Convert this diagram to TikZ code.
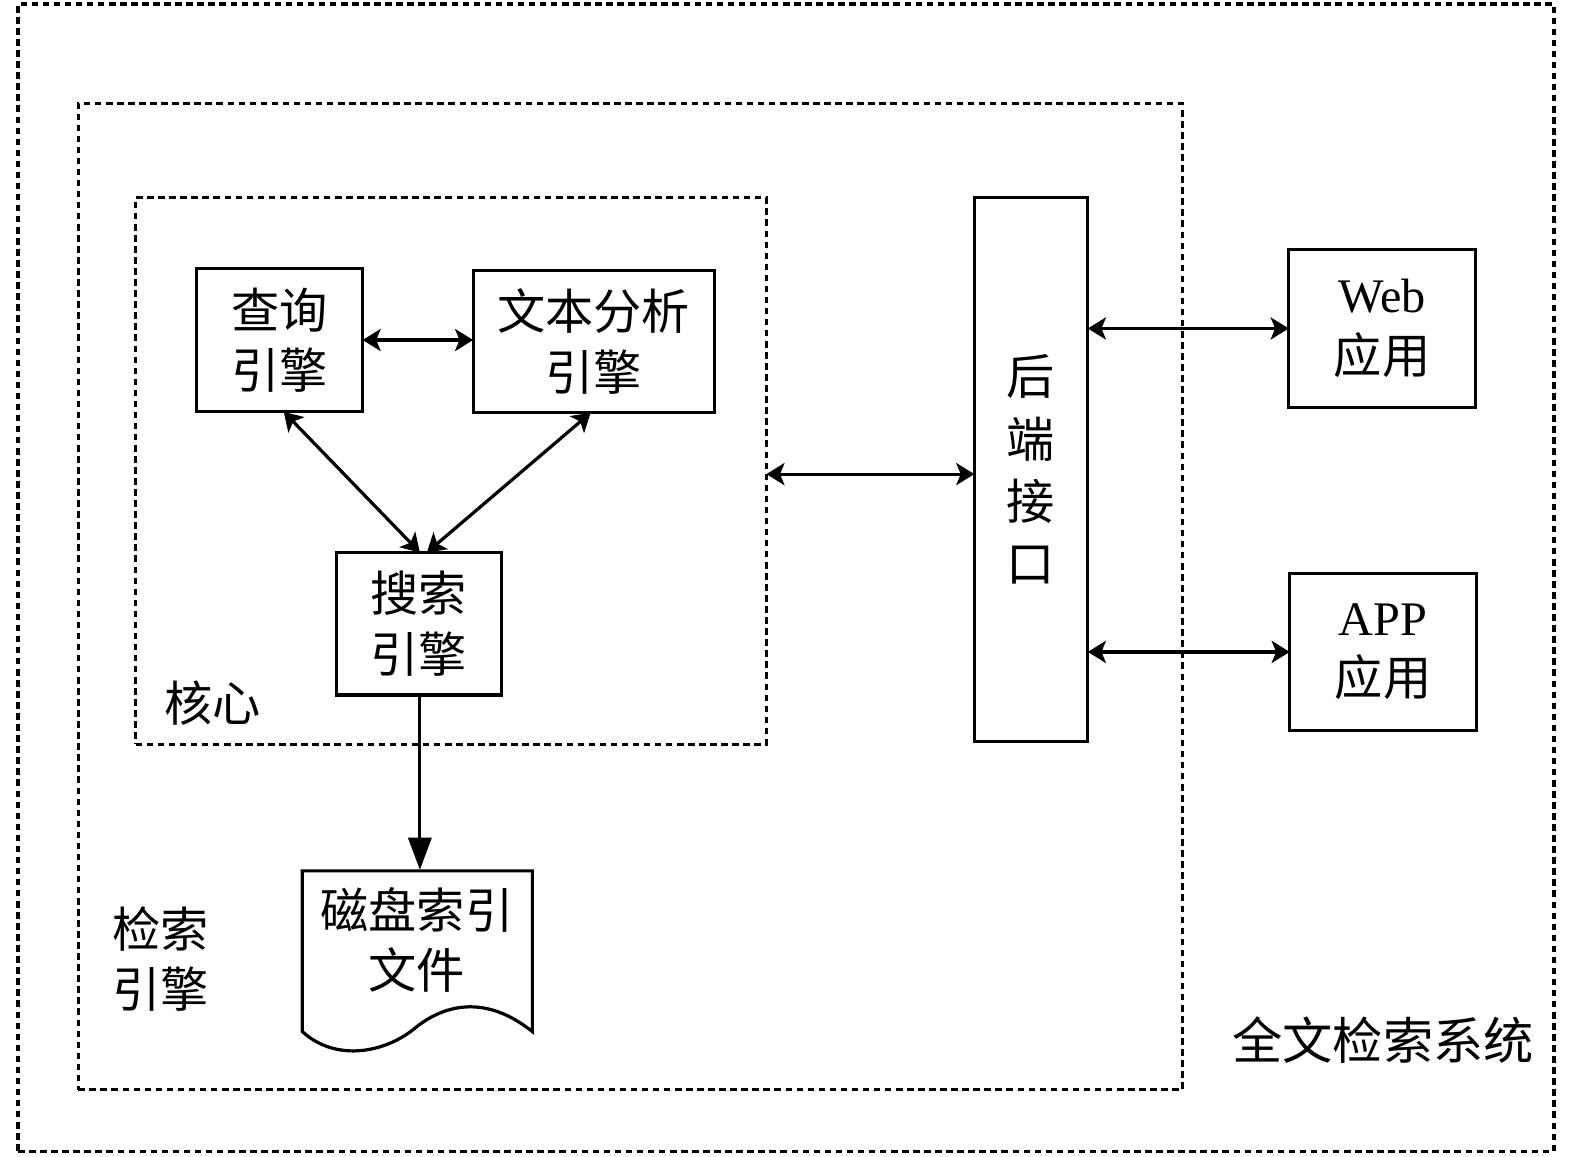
\documentclass[tikz,border=0pt]{standalone}
\usepackage{fontspec}
\setmainfont{Liberation Serif}
\newfontfamily\cjk{Noto Sans CJK SC}
\usetikzlibrary{arrows.meta,calc}
\begin{document}
\begin{tikzpicture}[x=1pt,y=-1pt,
  dashbox/.style={draw,line width=3.2pt,dash pattern=on 6.5pt off 4.5pt,inner sep=0pt,outer sep=0pt},
  solidbox/.style={draw,line width=3.2pt,inner sep=0pt,outer sep=0pt,align=center,
     font=\cjk\fontsize{48}{60}\selectfont},
  lbl/.style={inner sep=0pt,align=center,font=\cjk\fontsize{48}{60}\selectfont},
  tip/.tip={Stealth[length=18pt,width=22pt,inset=4.5pt]},
  dbl/.style={line width=3.2pt,tip-tip},
  one/.style={line width=3.2pt,-{Triangle[length=32pt,width=23pt]}}]
\useasboundingbox (0,0) rectangle (1568,1151);
% dashed frames
\node[dashbox,minimum width=1529pt,minimum height=1142pt] (outer) at (782.5,575) {};
\node[dashbox,minimum width=1099pt,minimum height=982pt] (ret) at (627.5,594) {};
\node[dashbox,minimum width=628pt,minimum height=544pt] (core) at (449,469) {};
% boxes
\node[solidbox,minimum width=165pt,minimum height=143pt] (q) at (278.5,338.5) {查询\\引擎};
\node[solidbox,minimum width=240pt,minimum height=142pt] (t) at (591,340) {文本分析\\引擎};
\node[solidbox,minimum width=164pt,minimum height=142pt] (s) at (417,621) {搜索\\引擎};
\node[solidbox,minimum width=113pt,minimum height=541pt,font=\cjk\fontsize{48}{62}\selectfont] (be) at (1026.5,467.5) {后\\端\\接\\口};
\node[solidbox,minimum width=186pt,minimum height=158pt] (web) at (1376,327) {{\rmfamily Web}\\应用};
\node[solidbox,minimum width=186pt,minimum height=156pt] (app) at (1377,649) {{\rmfamily APP}\\应用};
% document
\draw[line width=3.2pt,line join=miter] (301,1027) -- (301,867) coordinate (doctop) -- (530,867) -- (530,1027)
   .. controls (490,995) and (450,995) .. (415,1022)
   .. controls (385,1048) and (335,1058) .. (301,1027) -- cycle;
\coordinate (docin) at (418,866);
\node[lbl] (doc) at (415,936) {磁盘索引\\文件};
% labels
\node[lbl] (lcore) at (212,700) {核心};
\node[lbl] (lret) at (160,955) {检索\\引擎};
\node[lbl,font=\cjk\fontsize{50}{60}\selectfont] (lsys) at (1377,1035) {全文检索系统};
% connectors
\draw[dbl] (q.east) -- (q.east -| t.west);
\draw[dbl] ([xshift=4pt]q.south) -- ([xshift=1pt]s.north);
\draw[dbl] ([xshift=-3pt]t.south) -- ([xshift=8pt]s.north);
\draw[dbl] ([yshift=-3pt]core.east) -- ([yshift=-3pt]core.east -| be.west);
\draw[dbl] (be.east |- web.west) -- (web.west);
\draw[dbl] (be.east |- app.west) -- (app.west);
\draw[one] ([xshift=1pt]s.south) -- (docin);
\end{tikzpicture}
\end{document}
